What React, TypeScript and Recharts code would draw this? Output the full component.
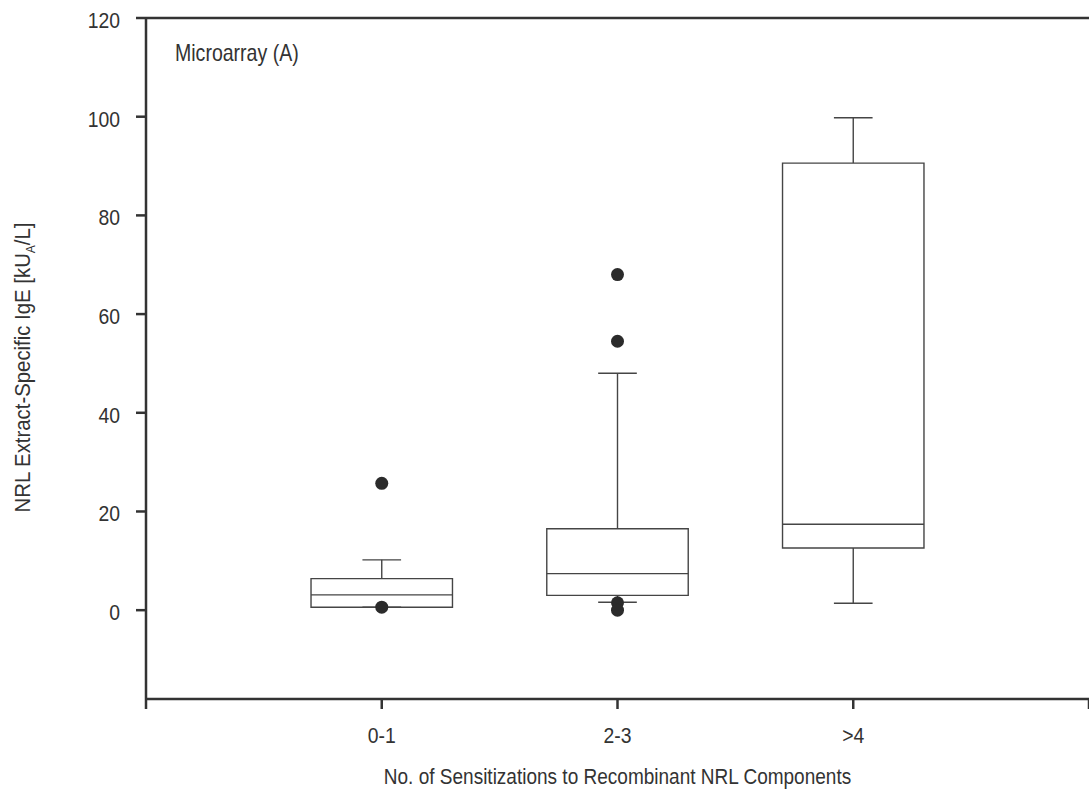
import React from 'react';
import {
  ComposedChart,
  XAxis,
  YAxis,
  Scatter,
  ReferenceArea,
  ReferenceLine,
} from 'recharts';

const categories = ['0-1', '2-3', '>4'];
const positions = [1, 2, 3];
const whiskerLow = [0.6, 1.6, 1.4];
const q1 = [0.6, 3.0, 12.6];
const median = [3.1, 7.4, 17.4];
const q3 = [6.4, 16.5, 90.6];
const whiskerHigh = [10.2, 48.0, 99.8];
const outliers01 = [25.7, 0.6];
const outliers23 = [68.0, 54.5, 1.5, 0];
const outliers4: number[] = [];
const yTicks = [0, 20, 40, 60, 80, 100, 120];
const xTicks = [0, 1, 2, 3, 4];

const outlierData = [
  ...outliers01.map((v) => ({ x: positions[0], y: v })),
  ...outliers23.map((v) => ({ x: positions[1], y: v })),
  ...outliers4.map((v) => ({ x: positions[2], y: v })),
];

const FONT = "'Liberation Sans', Arial, sans-serif";
const TEXT = '#333333';
const LINE = '#454545';
const AXIS = '#333333';
const BOX_HALF = 0.3;
const CAP_HALF = 0.082;
const SQUEEZE = 0.88;

const tickLabel = (v: number) => {
  const i = positions.indexOf(v);
  return i >= 0 ? categories[i] : '';
};

const XTick = (props: any) => {
  const { x, y, payload } = props;
  const label = tickLabel(payload.value);
  if (!label) return null;
  return (
    <text
      transform={`translate(${x} ${y}) scale(${SQUEEZE} 1)`}
      x={0}
      y={0}
      dy={22}
      textAnchor="middle"
      fill={TEXT}
      fontSize={22}
      fontFamily={FONT}
    >
      {label}
    </text>
  );
};

const YTick = (props: any) => {
  const { x, y, payload } = props;
  return (
    <text
      transform={`translate(${x} ${y}) scale(${SQUEEZE} 1)`}
      x={0}
      y={0}
      dy={10}
      textAnchor="end"
      fill={TEXT}
      fontSize={22}
      fontFamily={FONT}
    >
      {payload.value}
    </text>
  );
};

export default function App() {
  return (
    <div style={{ position: 'absolute', left: 0, top: 0, background: '#fff' }}>
      <ComposedChart
        width={1089}
        height={790}
        margin={{ top: 18, right: 0, bottom: 0, left: 0 }}
      >
        <XAxis
          type="number"
          dataKey="x"
          domain={[0, 4]}
          ticks={xTicks}
          allowDataOverflow
          height={91}
          axisLine={{ stroke: AXIS, strokeWidth: 2.5 }}
          tickLine={{ stroke: AXIS, strokeWidth: 2.5 }}
          tickSize={10}
          tickMargin={12}
          tick={<XTick />}
          label={{
            content: (props: any) => {
              const vb = props.viewBox || { x: 146, y: 699, width: 943, height: 91 };
              const cx = vb.x + vb.width / 2;
              const cy = vb.y + 85;
              return (
                <text
                  transform={`translate(${cx} ${cy}) scale(0.865 1)`}
                  x={0}
                  y={0}
                  textAnchor="middle"
                  fill={TEXT}
                  fontSize={22}
                  fontFamily={FONT}
                >
                  No. of Sensitizations to Recombinant NRL Components
                </text>
              );
            },
          }}
        />
        <YAxis
          type="number"
          dataKey="y"
          domain={[-18, 120]}
          ticks={yTicks}
          allowDataOverflow
          width={146}
          axisLine={{ stroke: AXIS, strokeWidth: 2.5 }}
          tickLine={{ stroke: AXIS, strokeWidth: 2.5 }}
          tickSize={10}
          tickMargin={16}
          tick={<YTick />}
          label={{
            content: (props: any) => {
              const vb = props.viewBox || { x: 0, y: 18, width: 146, height: 681 };
              const cx = vb.x + 30;
              const cy = vb.y + vb.height / 2 + 9;
              return (
                <text
                  transform={`translate(${cx} ${cy}) rotate(-90) scale(0.925 1)`}
                  x={0}
                  y={0}
                  textAnchor="middle"
                  fill={TEXT}
                  fontSize={22}
                  fontFamily={FONT}
                >
                  <tspan>NRL Extract-Specific IgE [kU</tspan>
                  <tspan fontSize={13} dy={5}>A</tspan>
                  <tspan dy={-5}>/L]</tspan>
                </text>
              );
            },
          }}
        />

        <ReferenceLine
          y={120}
          stroke={AXIS}
          strokeWidth={2.5}
          ifOverflow="visible"
          label={{
            content: (props: any) => {
              const vb = props.viewBox || { x: 146, y: 18 };
              return (
                <text
                  transform={`translate(${vb.x + 29} ${vb.y + 43}) scale(0.85 1)`}
                  x={0}
                  y={0}
                  fill={TEXT}
                  fontSize={23}
                  fontFamily={FONT}
                >
                  Microarray (A)
                </text>
              );
            },
          }}
        />

        {positions.map((p, i) => (
          <ReferenceArea
            key={`box-${i}`}
            x1={p - BOX_HALF}
            x2={p + BOX_HALF}
            y1={q1[i]}
            y2={q3[i]}
            fill="none"
            fillOpacity={0}
            stroke={LINE}
            strokeWidth={1.4}
            ifOverflow="visible"
          />
        ))}
        {positions.map((p, i) => (
          <ReferenceLine
            key={`med-${i}`}
            segment={[
              { x: p - BOX_HALF, y: median[i] },
              { x: p + BOX_HALF, y: median[i] },
            ]}
            stroke={LINE}
            strokeWidth={1.4}
            ifOverflow="visible"
          />
        ))}
        {positions.map((p, i) => (
          <ReferenceLine
            key={`wh-${i}`}
            segment={[
              { x: p, y: q3[i] },
              { x: p, y: whiskerHigh[i] },
            ]}
            stroke={LINE}
            strokeWidth={1.4}
            ifOverflow="visible"
          />
        ))}
        {positions.map((p, i) => (
          <ReferenceLine
            key={`wl-${i}`}
            segment={[
              { x: p, y: q1[i] },
              { x: p, y: whiskerLow[i] },
            ]}
            stroke={LINE}
            strokeWidth={1.4}
            ifOverflow="visible"
          />
        ))}
        {positions.map((p, i) => (
          <ReferenceLine
            key={`capH-${i}`}
            segment={[
              { x: p - CAP_HALF, y: whiskerHigh[i] },
              { x: p + CAP_HALF, y: whiskerHigh[i] },
            ]}
            stroke={LINE}
            strokeWidth={1.4}
            ifOverflow="visible"
          />
        ))}
        {positions.map((p, i) => (
          <ReferenceLine
            key={`capL-${i}`}
            segment={[
              { x: p - CAP_HALF, y: whiskerLow[i] },
              { x: p + CAP_HALF, y: whiskerLow[i] },
            ]}
            stroke={LINE}
            strokeWidth={1.4}
            ifOverflow="visible"
          />
        ))}

        <Scatter
          data={outlierData}
          dataKey="y"
          isAnimationActive={false}
          shape={(props: any) => (
            <circle cx={props.cx} cy={props.cy} r={6.5} fill="#2b2b2b" />
          )}
        />
      </ComposedChart>
    </div>
  );
}
